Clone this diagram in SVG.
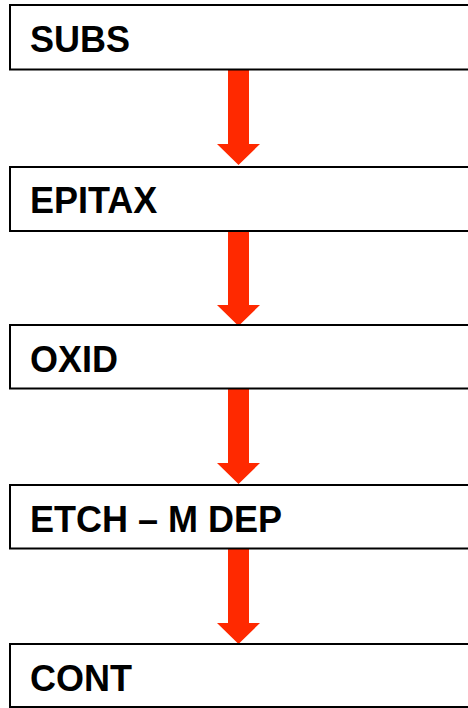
<svg xmlns="http://www.w3.org/2000/svg" width="468" height="708" viewBox="0 0 468 708">
<style>
.box{fill:#fff;stroke:#000;stroke-width:2}
.lbl{font-family:"Liberation Sans",Arial,sans-serif;font-weight:bold;font-size:36px;fill:#000}
.arr{fill:#FF2900}
</style>
<defs>
<path id="arrow" d="M-10.5,0 H10.5 V74 H21.5 L0,95 L-21.5,74 H-10.5 Z"/>
</defs>
<rect width="468" height="708" fill="#fff"/>
<g id="connectors">
<use href="#arrow" class="arr" x="238.5" y="70"/>
<use href="#arrow" class="arr" x="238.5" y="231" transform="translate(0,0)"/>
<use href="#arrow" class="arr" x="238.5" y="389"/>
<use href="#arrow" class="arr" x="238.5" y="549"/>
</g>
<g id="subs"><rect class="box" x="10" y="5" width="470" height="64.5"/><text class="lbl" x="30" y="52">SUBS</text></g>
<g id="epitax"><rect class="box" x="10" y="167" width="470" height="64"/><text class="lbl" x="30" y="213">EPITAX</text></g>
<g id="oxid"><rect class="box" x="10" y="325" width="470" height="63.5"/><text class="lbl" x="30" y="371.5">OXID</text></g>
<g id="etch"><rect class="box" x="10" y="485" width="470" height="63.5"/><text class="lbl" x="30" y="532">ETCH – M DEP</text></g>
<g id="cont"><rect class="box" x="10" y="644" width="470" height="63"/><text class="lbl" x="30" y="690.5">CONT</text></g>
</svg>
